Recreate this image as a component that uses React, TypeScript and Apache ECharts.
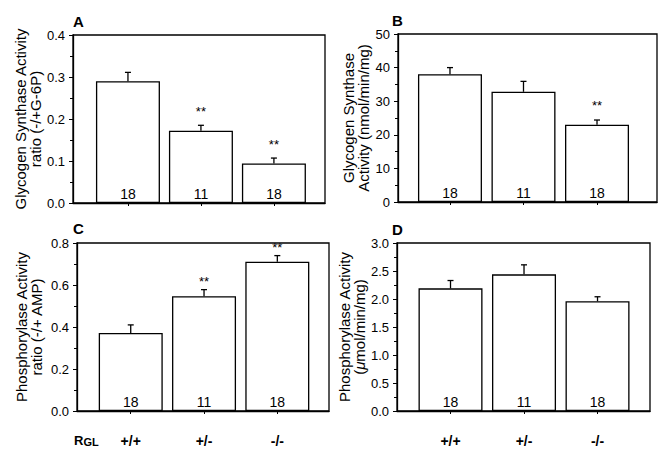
import React, { useEffect, useRef } from "react";
import * as echarts from "echarts";

// ---- data ----
const genotypes = ["+/+", "+/-", "-/-"];
const nValues = [18, 11, 18];

const gsRatioMean = [0.29, 0.172, 0.094];
const gsRatioErr = [0.021, 0.013, 0.013];
const gsRatioStars = [0, 1, 1];

const gsActivityMean = [38, 32.8, 23];
const gsActivityErr = [2.0, 3.1, 1.4];
const gsActivityStars = [0, 0, 1];

const phRatioMean = [0.372, 0.547, 0.711];
const phRatioErr = [0.038, 0.031, 0.029];
const phRatioStars = [0, 1, 1];

const phActivityMean = [2.19, 2.44, 1.96];
const phActivityErr = [0.14, 0.17, 0.08];
const phActivityStars = [0, 0, 0];

const FONT = '"Liberation Sans", Arial, Helvetica, sans-serif';

type Panel = {
  letter: string;
  mean: number[];
  err: number[];
  stars: number[];
  yMax: number;
  yInterval: number;
  decimals: number;
  name: string;
  grid: { left: number; top: number; width: number; height: number };
  xMin: number;
  xMax: number;
  nameGap: number;
  starGap: number;
  showX: boolean;
  letterPos: [number, number];
};

const panels: Panel[] = [
  {
    letter: "A",
    mean: gsRatioMean,
    err: gsRatioErr,
    stars: gsRatioStars,
    yMax: 0.4,
    yInterval: 0.1,
    decimals: 1,
    name: "Glycogen Synthase Activity\nratio (-/+G-6P)",
    grid: { left: 73, top: 35, width: 252, height: 168 },
    xMin: 0.247,
    xMax: 3.7,
    nameGap: 29,
    starGap: 14,
    showX: false,
    letterPos: [73, 14],
  },
  {
    letter: "B",
    mean: gsActivityMean,
    err: gsActivityErr,
    stars: gsActivityStars,
    yMax: 50,
    yInterval: 10,
    decimals: 0,
    name: "Glycogen Synthase\nActivity (nmol/min/mg)",
    grid: { left: 398, top: 34, width: 259, height: 168 },
    xMin: 0.293,
    xMax: 3.816,
    nameGap: 27,
    starGap: 15,
    showX: false,
    letterPos: [392, 13],
  },
  {
    letter: "C",
    mean: phRatioMean,
    err: phRatioErr,
    stars: phRatioStars,
    yMax: 0.8,
    yInterval: 0.2,
    decimals: 1,
    name: "Phosphorylase Activity\nratio (-/+ AMP)",
    grid: { left: 77, top: 243, width: 252, height: 168 },
    xMin: 0.267,
    xMax: 3.705,
    nameGap: 33,
    starGap: 8,
    showX: true,
    letterPos: [73, 221],
  },
  {
    letter: "D",
    mean: phActivityMean,
    err: phActivityErr,
    stars: phActivityStars,
    yMax: 3.0,
    yInterval: 0.5,
    decimals: 1,
    name: "Phosphorylase Activity\n({i|μ}mol/min/mg)",
    grid: { left: 397, top: 243, width: 253, height: 168 },
    xMin: 0.272,
    xMax: 3.714,
    nameGap: 27,
    starGap: 14,
    showX: true,
    letterPos: [392, 222],
  },
];

export default function App() {
  const ref = useRef<HTMLDivElement>(null);

  useEffect(() => {
    document.body.style.margin = "0";
    if (!ref.current) return;
    const chart = echarts.init(ref.current, undefined, { renderer: "svg" });

    const grids: any[] = [];
    const xAxes: any[] = [];
    const yAxes: any[] = [];
    const series: any[] = [];
    const titles: any[] = [];

    panels.forEach((p, i) => {
      grids.push({
        ...p.grid,
        show: true,
        borderColor: "#000",
        borderWidth: 1.3,
        backgroundColor: "transparent",
        containLabel: false,
        outerBoundsMode: "none",
      });
      xAxes.push({
        type: "value",
        gridIndex: i,
        min: p.xMin,
        max: p.xMax,
        splitLine: { show: false },
        axisLine: { onZero: false, lineStyle: { color: "#000", width: 1.3 } },
        axisTick: {
          show: true,
          customValues: [1, 2, 3],
          length: 3,
          lineStyle: { color: "#000", width: 1 },
        },
        axisLabel: {
          show: p.showX,
          customValues: [1, 2, 3],
          formatter: (v: number) => genotypes[Math.round(v) - 1] ?? "",
          fontFamily: FONT,
          fontWeight: "bold",
          fontSize: 14,
          color: "#000",
          margin: 23,
        },
      });
      yAxes.push({
        type: "value",
        gridIndex: i,
        min: 0,
        max: p.yMax,
        interval: p.yInterval,
        splitLine: { show: false },
        axisLine: { show: true, onZero: false, lineStyle: { color: "#000", width: 1.3 } },
        axisTick: { show: true, length: 4, lineStyle: { color: "#000", width: 1 } },
        minorTick: { show: true, splitNumber: 2, length: 3, lineStyle: { color: "#000", width: 1 } },
        axisLabel: {
          formatter: (v: number) => v.toFixed(p.decimals),
          fontFamily: FONT,
          fontSize: 13,
          color: "#000",
          margin: 8,
        },
        name: p.name,
        nameLocation: "middle",
        nameGap: p.nameGap,
        nameTextStyle: {
          fontFamily: FONT,
          fontSize: 15,
          color: "#000",
          lineHeight: 15,
          rich: {
            i: { fontFamily: FONT, fontSize: 15, lineHeight: 15, fontStyle: "italic", color: "#000" },
          },
        },
      });
      series.push({
        type: "bar",
        xAxisIndex: i,
        yAxisIndex: i,
        barWidth: 64,
        data: p.mean.map((m, k) => [k + 1, m]),
        itemStyle: { color: "#fff", borderColor: "#000", borderWidth: 1.3 },
        label: {
          show: true,
          position: "insideBottom",
          distance: 2,
          formatter: (prm: any) => String(nValues[prm.dataIndex]),
          fontFamily: FONT,
          fontSize: 14,
          color: "#000",
        },
        z: 2,
      });
      series.push({
        type: "custom",
        xAxisIndex: i,
        yAxisIndex: i,
        z: 3,
        data: p.mean.map((m, k) => [k + 1, m, p.err[k], p.stars[k]]),
        renderItem: (params: any, api: any) => {
          const x = api.value(0);
          const y = api.value(1);
          const e = api.value(2);
          const s = api.value(3);
          const p0 = api.coord([x, y]);
          const p1 = api.coord([x, y + e]);
          const lineStyle = { stroke: "#000", lineWidth: 1.3 };
          const children: any[] = [
            { type: "line", shape: { x1: p0[0], y1: p0[1], x2: p1[0], y2: p1[1] }, style: lineStyle },
            { type: "line", shape: { x1: p1[0] - 3, y1: p1[1], x2: p1[0] + 3, y2: p1[1] }, style: lineStyle },
          ];
          if (s) {
            children.push({
              type: "text",
              x: p1[0],
              y: p1[1] - p.starGap,
              style: {
                text: "**",
                fontFamily: FONT,
                fontSize: 13,
                fill: "#000",
                align: "center",
                verticalAlign: "middle",
              },
            });
          }
          return { type: "group", children };
        },
      });
      titles.push({
        text: p.letter,
        left: p.letterPos[0],
        top: p.letterPos[1],
        padding: 0,
        textStyle: { fontFamily: FONT, fontSize: 15, fontWeight: "bold", color: "#000" },
      });
    });

    chart.setOption({
      animation: false,
      backgroundColor: "#fff",
      title: titles,
      grid: grids,
      xAxis: xAxes,
      yAxis: yAxes,
      series,
      graphic: [
        {
          type: "text",
          left: 74,
          top: 434,
          style: {
            text: "{r|R}{g|GL}",
            rich: {
              r: { fontFamily: FONT, fontSize: 13, fontWeight: "bold", fill: "#000", verticalAlign: "bottom", lineHeight: 13 },
              g: { fontFamily: FONT, fontSize: 11, fontWeight: "bold", fill: "#000", verticalAlign: "bottom", lineHeight: 13 },
            },
          },
        },
      ],
    });

    return () => chart.dispose();
  }, []);

  return <div ref={ref} style={{ width: 663, height: 459 }} />;
}
